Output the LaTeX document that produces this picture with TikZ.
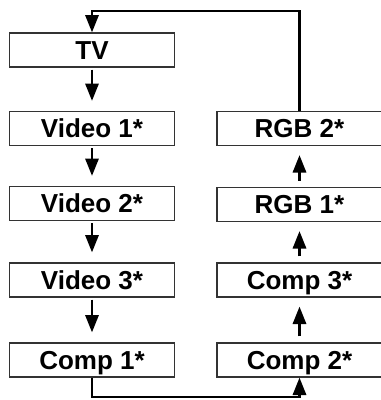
\documentclass[tikz,border=0pt]{standalone}
\usepackage{fontspec}
\setmainfont{Liberation Sans}
\usetikzlibrary{arrows.meta}

\begin{document}
\begin{tikzpicture}[x=0.75pt,y=-0.75pt,
  srcbox/.style={draw=black!80,line width=1pt,minimum width=124pt,minimum height=25.5pt,
    inner sep=0pt,text height=13.6pt,text depth=0pt,font=\fontsize{19.5}{21}\selectfont\bfseries},
  flow/.style={line width=1.6pt,-{Triangle[length=13pt,width=10pt]}},
  down/.style={flow,shorten <=1.5pt,shorten >=7.5pt},
  up/.style={flow,shorten <=4.5pt,shorten >=6.75pt}]
\useasboundingbox (0,0) rectangle (381,400);
% left column
\node[srcbox] (tv)     at (92,50)    {TV};
\node[srcbox] (videoa) at (92,128.5) {Video 1*};
\node[srcbox] (videob) at (92,203.5) {Video 2*};
\node[srcbox] (videoc) at (92,280)   {Video 3*};
\node[srcbox] (compa)  at (92,360)   {Comp 1*};
% right column
\node[srcbox] (compb)  at (299.5,360)   {Comp 2*};
\node[srcbox] (compc)  at (299.5,280)   {Comp 3*};
\node[srcbox] (rgba)   at (299.5,204.5) {RGB 1*};
\node[srcbox] (rgbb)   at (299.5,128.5) {RGB 2*};
% arrows
\draw[down] (tv) -- (videoa);
\draw[down] (videoa) -- (videob);
\draw[down] (videob) -- (videoc);
\draw[down] (videoc) -- (compa);
\draw[up] (compb) -- (compc);
\draw[up] (compc) -- (rgba);
\draw[up] (rgba) -- (rgbb);
% loops
\coordinate (botl) at (92,397);
\coordinate (topl) at (92,10.7);
\draw[flow] (compa.south) -- (botl) -| (compb.south);
\draw[flow] (rgbb.north) |- (topl) -- (tv.north);
\end{tikzpicture}
\end{document}
